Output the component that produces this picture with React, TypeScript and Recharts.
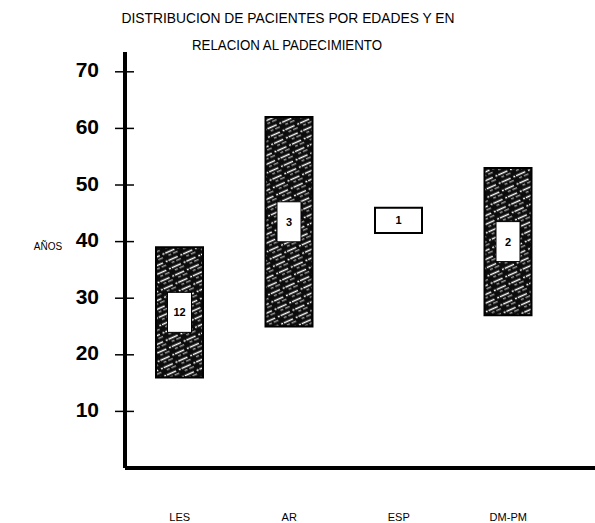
import React from 'react';
import { BarChart, Bar, XAxis, YAxis, Cell, LabelList } from 'recharts';

const categories = ['LES', 'AR', 'ESP', 'DM-PM'];
const edadMin = [16, 25, 41.5, 27];
const edadMax = [39, 62, 46, 53];
const pacientes = [12, 3, 1, 2];
const yTicks = [10, 20, 30, 40, 50, 60, 70];

const data = categories.map((name, i) => ({
  name,
  rango: [edadMin[i], edadMax[i]],
  pacientes: pacientes[i],
}));

const YTick = ({ x, y, payload }: any) => (
  <g>
    <line x1={x - 10} y1={y} x2={x + 9} y2={y} stroke="#000" strokeWidth={1.5} />
    <text
      x={x - 26}
      y={y}
      textAnchor="end"
      dominantBaseline="middle"
      fontFamily="Liberation Sans, Arial, sans-serif"
      fontWeight="bold"
      fontSize={21}
      fill="#000"
    >
      {payload.value}
    </text>
  </g>
);

const XTick = ({ x, y, payload }: any) => (
  <text
    x={x}
    y={y + 50}
    textAnchor="middle"
    dominantBaseline="middle"
    fontFamily="Liberation Sans, Arial, sans-serif"
    fontSize={11}
    fill="#000"
  >
    {payload.value}
  </text>
);

const CountLabel = ({ x, y, width, height, value, index }: any) => {
  const cx = x + width / 2;
  const cy = y + height / 2;
  const plain = index === 2;
  return (
    <g>
      {!plain && (
        <rect x={cx - 12} y={cy - 20} width={24} height={40} fill="#fff" stroke="#000" strokeWidth={1} />
      )}
      <text
        x={cx}
        y={cy + 1}
        textAnchor="middle"
        dominantBaseline="middle"
        fontFamily="Liberation Sans, Arial, sans-serif"
        fontWeight="bold"
        fontSize={11}
        fill="#000"
      >
        {value}
      </text>
    </g>
  );
};

export default function App() {
  return (
    <div style={{ position: 'absolute', left: 0, top: 0, width: 595, height: 523, background: '#fff' }}>
      <svg width={595} height={523} style={{ position: 'absolute', left: 0, top: 0, pointerEvents: 'none' }}>
        <text
          x={288}
          y={23}
          textAnchor="middle"
          fontFamily="Liberation Sans, Arial, sans-serif"
          fontSize={14}
          textLength={333}
          lengthAdjust="spacingAndGlyphs"
          fill="#000"
        >
          DISTRIBUCION DE PACIENTES POR EDADES Y EN
        </text>
        <text
          x={287}
          y={50}
          textAnchor="middle"
          fontFamily="Liberation Sans, Arial, sans-serif"
          fontSize={14}
          textLength={190}
          lengthAdjust="spacingAndGlyphs"
          fill="#000"
        >
          RELACION AL PADECIMIENTO
        </text>
        <text
          x={48}
          y={250}
          textAnchor="middle"
          fontFamily="Liberation Sans, Arial, sans-serif"
          fontSize={10}
          fill="#000"
        >
          AÑOS
        </text>
      </svg>
      <BarChart
        width={595}
        height={523}
        data={data}
        margin={{ top: 52, right: 0, left: 0, bottom: 0 }}
        barSize={47}
      >
        <defs>
          <pattern id="hatch" width="16" height="8" patternUnits="userSpaceOnUse" patternTransform="rotate(-24)">
            <rect width="16" height="8" fill="#0c0c0c" />
            <line x1="0" y1="2.5" x2="16" y2="2.5" stroke="#fff" strokeWidth="1.4" strokeDasharray="10 3 2 1" />
            <line x1="2" y1="5.8" x2="16" y2="5.8" stroke="#eee" strokeWidth="0.9" strokeDasharray="3 2 5 4" />
          </pattern>
        </defs>
        <XAxis
          dataKey="name"
          height={55}
          padding={{ left: 0, right: 32 }}
          axisLine={{ stroke: '#000', strokeWidth: 4 }}
          tickLine={false}
          tickSize={0}
          tickMargin={0}
          tick={<XTick />}
          interval={0}
        />
        <YAxis
          width={125}
          domain={[0, 73.5]}
          ticks={yTicks}
          axisLine={{ stroke: '#000', strokeWidth: 4 }}
          tickLine={false}
          tickSize={0}
          tickMargin={0}
          tick={<YTick />}
          interval={0}
        />
        <Bar dataKey="rango" stroke="#000" strokeWidth={2} isAnimationActive={false}>
          {data.map((d, i) => (
            <Cell key={d.name} fill={i === 2 ? '#fff' : 'url(#hatch)'} />
          ))}
          <LabelList dataKey="pacientes" content={<CountLabel />} />
        </Bar>
      </BarChart>
    </div>
  );
}
